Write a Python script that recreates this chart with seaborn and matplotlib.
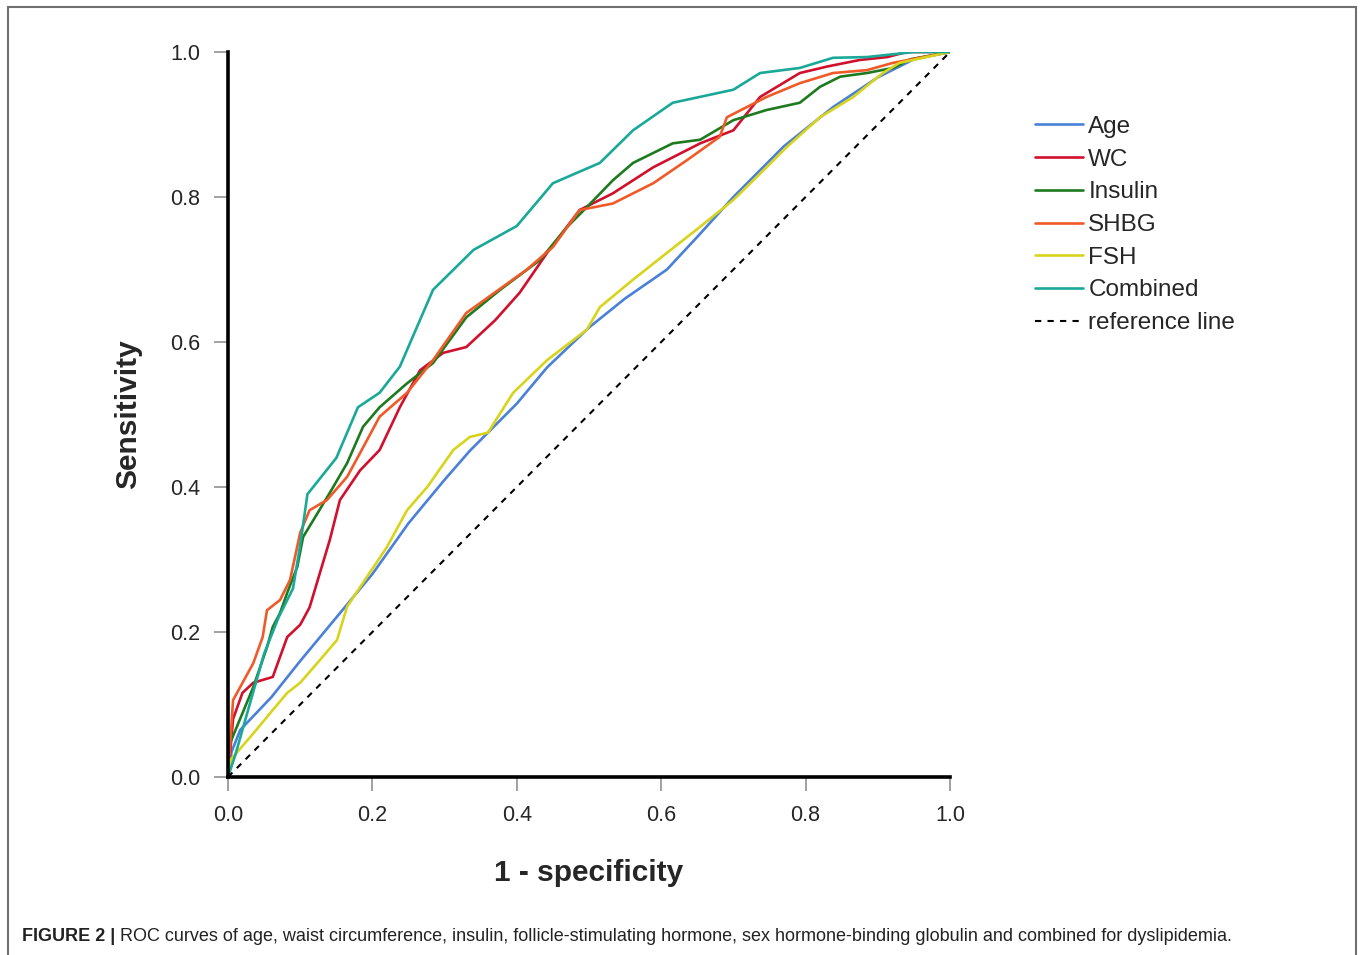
import numpy as np
import pandas as pd
import matplotlib
matplotlib.use("Agg")
import matplotlib.pyplot as plt
import matplotlib.patches as mpatches
import seaborn as sns

# ROC points (1 - specificity, sensitivity)
age_x = [0, 0.005, 0.017, 0.06, 0.1, 0.15, 0.2, 0.25, 0.3, 0.335, 0.4, 0.442, 0.5, 0.55, 0.608, 0.65, 0.7, 0.77, 0.838, 0.9, 0.95, 1.0]
age_y = [0, 0.035, 0.065, 0.11, 0.16, 0.22, 0.28, 0.35, 0.41, 0.45, 0.515, 0.565, 0.62, 0.66, 0.70, 0.745, 0.80, 0.87, 0.924, 0.965, 0.99, 1.0]

wc_x = [0, 0.007, 0.02, 0.035, 0.062, 0.082, 0.1, 0.113, 0.141, 0.155, 0.183, 0.21, 0.238, 0.266, 0.298, 0.33, 0.37, 0.404, 0.442, 0.487, 0.533, 0.589, 0.654, 0.7, 0.737, 0.792, 0.83, 0.875, 0.913, 0.94, 1.0]
wc_y = [0, 0.08, 0.116, 0.13, 0.138, 0.193, 0.21, 0.234, 0.327, 0.382, 0.423, 0.451, 0.51, 0.561, 0.585, 0.593, 0.63, 0.668, 0.723, 0.782, 0.805, 0.841, 0.874, 0.892, 0.938, 0.971, 0.98, 0.989, 0.993, 1.0, 1.0]

ins_x = [0, 0.003, 0.035, 0.054, 0.062, 0.072, 0.082, 0.096, 0.104, 0.118, 0.141, 0.165, 0.187, 0.21, 0.248, 0.284, 0.33, 0.377, 0.432, 0.47, 0.497, 0.533, 0.561, 0.616, 0.654, 0.7, 0.746, 0.792, 0.82, 0.848, 0.885, 0.921, 0.945, 1.0]
ins_y = [0, 0.047, 0.124, 0.179, 0.207, 0.226, 0.254, 0.29, 0.331, 0.354, 0.392, 0.433, 0.483, 0.51, 0.543, 0.571, 0.634, 0.672, 0.713, 0.759, 0.786, 0.823, 0.847, 0.874, 0.879, 0.906, 0.92, 0.93, 0.952, 0.966, 0.971, 0.978, 0.99, 1.0]

shbg_x = [0, 0.007, 0.035, 0.048, 0.054, 0.072, 0.086, 0.1, 0.113, 0.137, 0.165, 0.183, 0.21, 0.248, 0.284, 0.33, 0.414, 0.45, 0.487, 0.533, 0.589, 0.636, 0.681, 0.691, 0.746, 0.792, 0.838, 0.885, 0.921, 1.0]
shbg_y = [0, 0.106, 0.157, 0.193, 0.23, 0.244, 0.272, 0.337, 0.368, 0.382, 0.414, 0.447, 0.497, 0.53, 0.575, 0.64, 0.70, 0.731, 0.782, 0.791, 0.819, 0.851, 0.883, 0.91, 0.938, 0.957, 0.971, 0.975, 0.985, 1.0]

fsh_x = [0, 0.003, 0.035, 0.06, 0.082, 0.1, 0.127, 0.151, 0.165, 0.183, 0.22, 0.248, 0.276, 0.312, 0.335, 0.36, 0.395, 0.442, 0.497, 0.515, 0.561, 0.608, 0.654, 0.7, 0.746, 0.774, 0.82, 0.866, 0.907, 0.93, 1.0]
fsh_y = [0, 0.023, 0.06, 0.09, 0.116, 0.13, 0.161, 0.189, 0.235, 0.262, 0.317, 0.368, 0.40, 0.451, 0.469, 0.475, 0.53, 0.575, 0.617, 0.648, 0.686, 0.723, 0.759, 0.796, 0.841, 0.869, 0.91, 0.938, 0.971, 0.985, 1.0]

comb_x = [0, 0.01, 0.03, 0.05, 0.07, 0.09, 0.1, 0.11, 0.15, 0.18, 0.21, 0.238, 0.284, 0.34, 0.4, 0.45, 0.515, 0.561, 0.616, 0.7, 0.737, 0.792, 0.838, 0.885, 0.95, 1.0]
comb_y = [0, 0.03, 0.1, 0.17, 0.22, 0.26, 0.32, 0.39, 0.44, 0.51, 0.53, 0.566, 0.672, 0.727, 0.76, 0.819, 0.847, 0.892, 0.93, 0.948, 0.971, 0.978, 0.992, 0.993, 1.0, 1.0]

labels = ["Age", "WC", "Insulin", "SHBG", "FSH", "Combined"]
colors = ["#4a80d8", "#d0102c", "#1e7a1e", "#f05a28", "#d8d41c", "#1aa898"]
xs = [age_x, wc_x, ins_x, shbg_x, fsh_x, comb_x]
ys = [age_y, wc_y, ins_y, shbg_y, fsh_y, comb_y]

rows = []
for lab, xv, yv in zip(labels, xs, ys):
    for i, (a, b) in enumerate(zip(xv, yv)):
        rows.append((lab, i, a, b))
df = pd.DataFrame(rows, columns=["curve", "order", "fpr", "tpr"])

sns.set_style("white")
plt.rcParams['font.family'] = ['Liberation Sans', 'DejaVu Sans']

fig = plt.figure(figsize=(13.6, 9.55), dpi=100)
ax = fig.add_axes([228/1360, 1-777/955, 722/1360, 725/955])

sns.lineplot(data=df, x="fpr", y="tpr", hue="curve", hue_order=labels,
             palette=colors, sort=False, estimator=None, linewidth=1.9,
             legend=False, ax=ax)
ax.plot([0, 1], [0, 1], color="black", linestyle=(0, (3, 3)), linewidth=1.5,
        label="reference line")

ax.set_xlim(0, 1)
ax.set_ylim(0, 1)
ax.set_xticks(np.arange(0, 1.01, 0.2))
ax.set_yticks(np.arange(0, 1.01, 0.2))
ax.set_xticklabels(["0.0", "0.2", "0.4", "0.6", "0.8", "1.0"])
ax.set_yticklabels(["0.0", "0.2", "0.4", "0.6", "0.8", "1.0"])
ax.tick_params(axis="both", direction="out", length=10, width=1.3,
               color="#9a9a9a", labelsize=15.5, pad=10, left=True, bottom=True)
for s in ["top", "right"]:
    ax.spines[s].set_visible(False)
for s in ["left", "bottom"]:
    ax.spines[s].set_color("black")
    ax.spines[s].set_linewidth(2.6)

ax.set_xlabel("1 - specificity", fontsize=21.5, fontweight="bold", labelpad=24)
ax.set_ylabel("Sensitivity", fontsize=21.5, fontweight="bold", labelpad=20)

handles = ax.get_lines()
fig.legend(handles, labels + ["reference line"], loc="upper left",
           bbox_to_anchor=(1013/1360, 1-94/955), frameon=False, fontsize=17.5,
           handlelength=2.0, handletextpad=0.2, labelspacing=0.44)

# border around the figure panel
fig.patches.append(mpatches.Rectangle((8/1360, -0.05), 1348/1360, 1.05-7/955,
                                      transform=fig.transFigure, fill=False,
                                      edgecolor="#707070", linewidth=1.5))

# caption
t1 = fig.text(22/1360, 1-936/955, "FIGURE 2 |", fontsize=13, fontweight="bold",
              va="center", ha="left", color="#222222")
fig.canvas.draw()
bb = t1.get_window_extent().transformed(fig.transFigure.inverted())
fig.text(bb.x1 + 5/1360, 1-936/955,
         "ROC curves of age, waist circumference, insulin, follicle-stimulating hormone, "
         "sex hormone-binding globulin and combined for dyslipidemia.",
         fontsize=13, va="center", ha="left", color="#222222")

fig.savefig("out.png", dpi=100)
